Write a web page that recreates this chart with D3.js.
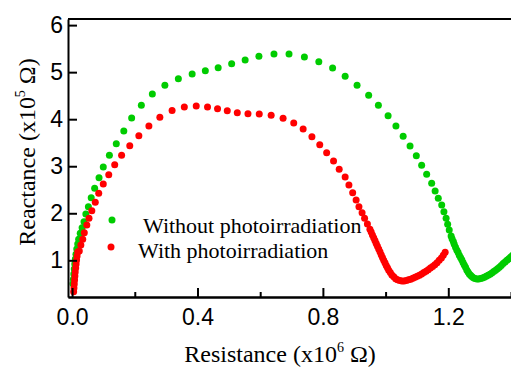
<!DOCTYPE html>
<html>
<head>
<meta charset="utf-8">
<script src="https://cdn.jsdelivr.net/npm/d3@7"></script>
<style>
  body { margin: 0; background: #fff; }
  svg { display: block; }
</style>
</head>
<body>
<div id="chart"></div>
<script>
// Resistance (x10^6 Ohm) / Reactance (x10^5 Ohm)
const withoutX = [0.003, 0.0042, 0.0055, 0.007, 0.0086, 0.0105, 0.0125, 0.015, 0.018, 0.021, 0.026, 0.032, 0.038, 0.044, 0.052, 0.061, 0.072,
  0.086, 0.0995, 0.119, 0.141, 0.165, 0.190, 0.221, 0.256, 0.296, 0.339, 0.383, 0.425, 0.466, 0.509, 0.552, 0.596, 0.644, 0.692,
  0.741, 0.787, 0.831, 0.871, 0.909, 0.946, 0.977, 1.008, 1.033, 1.056, 1.078, 1.098, 1.115, 1.131, 1.147, 1.158, 1.168, 1.179,
  1.186, 1.193, 1.198, 1.203, 1.209, 1.212, 1.216, 1.219, 1.223, 1.227, 1.231, 1.235, 1.239, 1.243, 1.247, 1.251, 1.255, 1.259,
  1.263, 1.267, 1.271, 1.275, 1.280, 1.285, 1.291, 1.297, 1.303, 1.309, 1.315, 1.321, 1.327, 1.333, 1.339, 1.345, 1.351, 1.357,
  1.363, 1.369, 1.375, 1.381, 1.387, 1.393, 1.399, 1.405];
const withoutY = [0.50, 0.60, 0.71, 0.815, 0.92, 1.03, 1.13, 1.24, 1.347, 1.447, 1.574, 1.693, 1.821, 1.984, 2.140, 2.331, 2.531,
  2.756, 2.984, 3.232, 3.479, 3.749, 4.025, 4.295, 4.536, 4.720, 4.861, 4.961, 5.031, 5.095, 5.180, 5.258, 5.337, 5.386, 5.386,
  5.322, 5.222, 5.088, 4.912, 4.720, 4.508, 4.295, 4.074, 3.855, 3.636, 3.430, 3.224, 3.020, 2.828, 2.637, 2.473, 2.318, 2.176,
  2.033, 1.893, 1.765, 1.644, 1.517, 1.46, 1.40, 1.34, 1.28, 1.22, 1.17, 1.11, 1.06, 1.01, 0.955, 0.90, 0.85, 0.795,
  0.75, 0.71, 0.68, 0.655, 0.63, 0.612, 0.603, 0.605, 0.612, 0.625, 0.64, 0.66, 0.68, 0.705, 0.73, 0.76, 0.79, 0.82,
  0.855, 0.89, 0.93, 0.965, 1.00, 1.035, 1.07, 1.105];

const withX = [0.005, 0.006, 0.007, 0.008, 0.009, 0.010, 0.0115, 0.0128, 0.0144, 0.016, 0.018, 0.023, 0.028, 0.034, 0.039, 0.047,
  0.054, 0.063, 0.074, 0.085, 0.0995, 0.117, 0.136, 0.158, 0.184, 0.213, 0.245, 0.280, 0.319, 0.358, 0.396, 0.432, 0.464, 0.495,
  0.527, 0.561, 0.597, 0.635, 0.673, 0.707, 0.737, 0.765, 0.790, 0.812, 0.834, 0.852, 0.871, 0.883, 0.895, 0.906, 0.915, 0.925,
  0.933, 0.942, 0.950, 0.954, 0.958, 0.962, 0.966, 0.970, 0.974, 0.978, 0.982, 0.986, 0.990, 0.994, 0.998, 1.002, 1.006, 1.010,
  1.015, 1.020, 1.026, 1.032, 1.038, 1.045, 1.052, 1.059, 1.066, 1.073, 1.080, 1.087, 1.094, 1.101, 1.108, 1.115, 1.122, 1.129,
  1.136, 1.143, 1.150, 1.157, 1.164, 1.171, 1.178, 1.184, 1.190];
const withY = [0.333, 0.41, 0.496, 0.581, 0.666, 0.751, 0.836, 0.92, 1.007, 1.092, 1.177, 1.198, 1.325, 1.447, 1.587, 1.751,
  1.893, 2.055, 2.233, 2.424, 2.622, 2.82, 3.03, 3.232, 3.436, 3.647, 3.855, 4.042, 4.185, 4.259, 4.280, 4.259, 4.223, 4.180,
  4.138, 4.117, 4.110, 4.083, 4.019, 3.919, 3.792, 3.628, 3.458, 3.288, 3.111, 2.935, 2.771, 2.601, 2.437, 2.282, 2.140, 2.012,
  1.893, 1.772, 1.659, 1.60, 1.54, 1.48, 1.42, 1.36, 1.30, 1.24, 1.18, 1.12, 1.06, 1.00, 0.95, 0.89, 0.84, 0.79,
  0.74, 0.69, 0.65, 0.61, 0.585, 0.57, 0.56, 0.56, 0.57, 0.585, 0.60, 0.62, 0.64, 0.66, 0.685, 0.71, 0.74, 0.77,
  0.80, 0.835, 0.87, 0.905, 0.95, 1.00, 1.05, 1.11, 1.17];

const majorTicksX = [0.0, 0.4, 0.8, 1.2];
const minorTicksX = [0.2, 0.6, 1.0, 1.4];
const ticksY = [1, 2, 3, 4, 5, 6];
const seriesNames = ["Without photoirradiation", "With photoirradiation"];

const W = 511, H = 368;
const m = { left: 68, right: 511, top: 19, bottom: 297 };
const green = "#00cc00", red = "#ff0000";

const svg = d3.select("#chart").append("svg")
    .attr("width", W)
    .attr("height", H);

const x = d3.scaleLinear().domain([-0.013, 1.4]).range([m.left, m.right]);
const y = d3.scaleLinear().domain([0.22, 6.13]).range([m.bottom, m.top]);

svg.append("defs").append("clipPath").attr("id", "clip")
    .append("rect")
    .attr("x", m.left).attr("y", m.top)
    .attr("width", m.right - m.left).attr("height", m.bottom - m.top);

// dots, green under red
const plot = svg.append("g").attr("clip-path", "url(#clip)");
plot.selectAll(".g-dot")
    .data(withoutX.map((v, i) => [v, withoutY[i]]))
    .join("circle")
    .attr("class", "g-dot")
    .attr("cx", d => x(d[0]))
    .attr("cy", d => y(d[1]))
    .attr("r", 3.5)
    .style("fill", green);

plot.selectAll(".r-dot")
    .data(withX.map((v, i) => [v, withY[i]]))
    .join("circle")
    .attr("class", "r-dot")
    .attr("cx", d => x(d[0]))
    .attr("cy", d => y(d[1]))
    .attr("r", 3.5)
    .style("fill", red);

// axes
const tickFont = "'Liberation Sans', Arial, sans-serif";

const xMajor = svg.append("g")
    .attr("transform", `translate(0,${m.bottom})`)
    .call(d3.axisBottom(x).tickValues(majorTicksX).tickFormat(d3.format(".1f"))
        .tickSizeInner(-9).tickSizeOuter(0).tickPadding(12));
const xMinor = svg.append("g")
    .attr("transform", `translate(0,${m.bottom})`)
    .call(d3.axisBottom(x).tickValues(minorTicksX).tickFormat("")
        .tickSizeInner(-5).tickSizeOuter(0));
const yAxis = svg.append("g")
    .attr("transform", `translate(${m.left},0)`)
    .call(d3.axisLeft(y).tickValues(ticksY).tickFormat(d3.format("d"))
        .tickSizeInner(-9).tickSizeOuter(0).tickPadding(5));

[xMajor, xMinor, yAxis].forEach(g => {
    g.select(".domain").attr("stroke", "#000").attr("stroke-width", 2);
    g.selectAll(".tick line").attr("stroke", "#000").attr("stroke-width", 2);
    g.selectAll(".tick text")
        .attr("fill", "#000")
        .style("font-family", tickFont)
        .style("font-size", "23px");
});

// top frame line
svg.append("line")
    .attr("x1", m.left).attr("x2", m.right)
    .attr("y1", m.top).attr("y2", m.top)
    .attr("stroke", "#000").attr("stroke-width", 2);

const serif = "'Liberation Serif', 'Times New Roman', serif";

// axis titles
const xt = svg.append("text")
    .attr("x", 280).attr("y", 362)
    .attr("text-anchor", "middle")
    .style("font-family", serif).style("font-size", "24px");
xt.append("tspan").text("Resistance (x10");
xt.append("tspan").attr("dy", -10).style("font-size", "14px").text("6");
xt.append("tspan").attr("dy", 10).text(" \u03A9)");

const yt = svg.append("text")
    .attr("transform", "translate(35,152) rotate(-90)")
    .attr("text-anchor", "middle")
    .style("font-family", serif).style("font-size", "24px");
yt.append("tspan").text("Reactance (x10");
yt.append("tspan").attr("dy", -10).style("font-size", "14px").text("5");
yt.append("tspan").attr("dy", 10).text(" \u03A9)");

// legend
const legend = [
    { name: seriesNames[0], color: green, dx: 112, dy: 220, tx: 143, ty: 233 },
    { name: seriesNames[1], color: red, dx: 111, dy: 247, tx: 138, ty: 258 }
];
legend.forEach(l => {
    svg.append("circle")
        .attr("cx", l.dx).attr("cy", l.dy).attr("r", 3.5)
        .style("fill", l.color);
    svg.append("text")
        .attr("x", l.tx).attr("y", l.ty)
        .style("font-family", serif).style("font-size", "22px")
        .text(l.name);
});
</script>
</body>
</html>
